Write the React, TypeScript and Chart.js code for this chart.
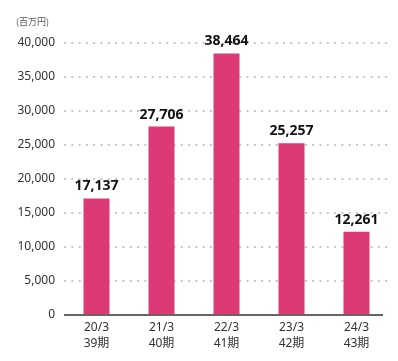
import React, { useEffect, useRef } from "react";
import { Chart, registerables } from "chart.js";

Chart.register(...registerables);

const periods = ["20/3", "21/3", "22/3", "23/3", "24/3"];
const terms = ["39期", "40期", "41期", "42期", "43期"];
const values = [17137, 27706, 38464, 25257, 12261];
const unitLabel = "(百万円)";
const yMax = 40000;
const yStep = 5000;

const FONT = "'Noto Sans', 'Noto Sans CJK JP', sans-serif";

export default function App() {
  const ref = useRef<HTMLCanvasElement | null>(null);

  useEffect(() => {
    document.body.style.margin = "0";
    const canvas = ref.current;
    if (!canvas) return;

    const labelPlugin = {
      id: "extras",
      afterDatasetsDraw(chart: any) {
        const ctx = chart.ctx;
        const meta = chart.getDatasetMeta(0);
        ctx.save();
        ctx.font = `bold 14px ${FONT}`;
        ctx.fillStyle = "#111";
        ctx.textAlign = "center";
        ctx.textBaseline = "alphabetic";
        meta.data.forEach((bar: any, i: number) => {
          ctx.fillText(values[i].toLocaleString("en-US"), bar.x, bar.y - 8);
        });
        // zero axis line
        const y0 = chart.scales.y.getPixelForValue(0);
        ctx.strokeStyle = "#333";
        ctx.lineWidth = 1.5;
        ctx.beginPath();
        ctx.moveTo(chart.chartArea.left, y0);
        ctx.lineTo(chart.chartArea.right - 6, y0);
        ctx.stroke();
        // unit label
        ctx.font = `9px 'Noto Sans CJK JP', sans-serif`;
        ctx.fillStyle = "#555";
        ctx.textAlign = "left";
        ctx.textBaseline = "middle";
        ctx.fillText(unitLabel, 16, 22);
        ctx.restore();
      },
    };

    const chart = new Chart(canvas, {
      type: "bar",
      data: {
        labels: periods.map((p, i) => [p, terms[i]]),
        datasets: [
          {
            data: values,
            backgroundColor: "#DB3A77",
            barPercentage: 0.4,
            categoryPercentage: 1,
          },
        ],
      },
      options: {
        responsive: false,
        animation: false,
        layout: { padding: { top: 43, right: 9, left: 0, bottom: 0 } },
        plugins: { legend: { display: false }, tooltip: { enabled: false } },
        scales: {
          x: {
            grid: { display: false, drawTicks: false },
            border: { display: false },
            ticks: {
              color: "#333",
              font: { family: FONT, size: 12, lineHeight: 1.3 },
              padding: 5,
              maxRotation: 0,
            },
            afterFit(scale: any) {
              scale.height = 46;
            },
          },
          y: {
            min: 0,
            max: yMax,
            ticks: {
              stepSize: yStep,
              color: "#333",
              font: { family: FONT, size: 12 },
              padding: 9,
              callback: (v: any) => Number(v).toLocaleString("en-US"),
            },
            grid: {
              color: (c: any) => (c.tick && c.tick.value === 0 ? "rgba(0,0,0,0)" : "#c8c8c8"),
              lineWidth: 2,
              drawTicks: false,
            },
            border: { display: false, dash: [2, 5.3] },
            afterFit(scale: any) {
              scale.width = 64;
            },
          },
        },
      },
      plugins: [labelPlugin],
    });

    return () => chart.destroy();
  }, []);

  return (
    <div style={{ position: "fixed", left: 0, top: 0, width: 398, height: 361 }}>
      <canvas ref={ref} width={398} height={361} style={{ width: 398, height: 361 }} />
    </div>
  );
}
